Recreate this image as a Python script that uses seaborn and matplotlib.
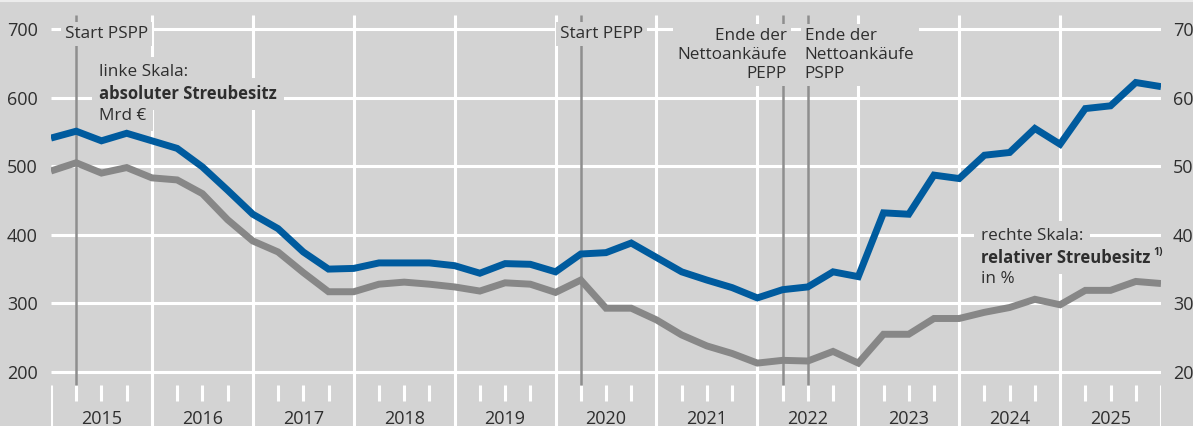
import numpy as np
import pandas as pd
import matplotlib
matplotlib.use('Agg')
import matplotlib.pyplot as plt
from matplotlib import font_manager
import seaborn as sns

# --------------------------
# Data (quarter ends, Q4 2014 .. Q4 2025)
# --------------------------
quarters = pd.period_range('2014Q4', '2025Q4', freq='Q').astype(str).tolist()
years = list(range(2015, 2026))

# absoluter Streubesitz, Mrd € (linke Skala)
abs_free_float = [541, 551, 537, 548, 537, 526, 499, 465, 430, 409, 375, 350,
                  351, 359, 359, 359, 355, 344, 358, 357, 346, 372, 374, 388,
                  367, 346, 334, 323, 308, 320, 324, 346, 339, 432, 430, 487,
                  482, 516, 520, 555, 532, 584, 588, 622, 616]

# relativer Streubesitz, % (rechte Skala)
rel_free_float = [49.3, 50.5, 49.0, 49.8, 48.3, 48.0, 46.0, 42.2, 39.1, 37.5, 34.5, 31.7,
                  31.7, 32.8, 33.1, 32.8, 32.4, 31.8, 33.0, 32.8, 31.6, 33.4, 29.3, 29.3,
                  27.6, 25.4, 23.8, 22.7, 21.3, 21.7, 21.6, 23.0, 21.3, 25.5, 25.5, 27.8,
                  27.8, 28.7, 29.4, 30.6, 29.8, 31.9, 31.9, 33.2, 32.9]

# events: (quarter, label)
events = [('2015Q1', 'Start PSPP'), ('2020Q1', 'Start PEPP'),
          ('2022Q1', 'Ende PEPP'), ('2022Q2', 'Ende PSPP')]

left_ticks = [200, 300, 400, 500, 600, 700]
right_ticks = [20, 30, 40, 50, 60, 70]

df = pd.DataFrame({'quarter': quarters, 'abs': abs_free_float, 'rel': rel_free_float})
df['pos'] = np.arange(len(df))
qpos = {q: i for i, q in enumerate(quarters)}

# --------------------------
# Styling
# --------------------------
BG = '#d3d3d3'
BLUE = '#005b9e'
GREY = '#878787'
EVT = '#8e8e8e'
TXT = '#2e2e2e'
FS = 12.3

# pick a humanist sans that actually has a bold face installed
def has_bold(name):
    for f in font_manager.fontManager.ttflist:
        if f.name == name and (f.weight in ('bold', 'semibold', 'demibold') or
                               (isinstance(f.weight, int) and f.weight >= 600)):
            return True
    return False

family = 'DejaVu Sans'
for cand in ['Noto Sans', 'Open Sans', 'Lato', 'Roboto', 'Liberation Sans']:
    if has_bold(cand):
        family = cand
        break

sns.set_style('white')
plt.rcParams['font.family'] = [family, 'DejaVu Sans']
plt.rcParams['font.size'] = FS

fig = plt.figure(figsize=(11.93, 4.26), dpi=100, facecolor=BG)
ax = fig.add_axes([51 / 1193, 0, 1110 / 1193, 1])
ax.set_facecolor(BG)

# pixel row -> left-scale value
def yv(py):
    return 700 - (py - 29) * 100 / 68.6

ymin, ymax = yv(426), yv(0)
ax.set_xlim(0, 44)
ax.set_ylim(ymin, ymax)

# grid
ax.hlines(left_ticks, 0, 44, color='white', lw=2.2, zorder=1)
year_edges = np.arange(4, 44, 4)
ax.vlines(year_edges, ymin, yv(15), color='white', lw=2.2, zorder=1)
ax.vlines([0, 44], ymin, yv(385), color='white', lw=2.2, zorder=1)
q_ticks = [i for i in range(1, 44) if i % 4 != 0]
ax.vlines(q_ticks, yv(401), yv(385), color='white', lw=2.2, zorder=1)

# year labels
for k, yr in enumerate(years):
    ax.text(4 * k + 2, yv(419), str(yr), ha='center', va='center', color=TXT,
            fontsize=13, clip_on=False)

# event lines
for q, _ in events:
    ax.vlines(qpos[q], yv(385), yv(15), color=EVT, lw=1.8, zorder=2)

box = dict(facecolor=BG, edgecolor='none', pad=3)
ax.text(0.55, yv(34), 'Start PSPP', ha='left', va='center', color=TXT, bbox=box, zorder=3)
ax.text(20.17, yv(34), 'Start PEPP', ha='left', va='center', color=TXT, bbox=box, zorder=3)
ax.text(29.17, yv(55), 'Ende der\nNettoankäufe\nPEPP', ha='right', va='center',
        multialignment='right', linespacing=1.22, color=TXT, bbox=box, zorder=3)
ax.text(29.88, yv(55), 'Ende der\nNettoankäufe\nPSPP', ha='left', va='center',
        multialignment='left', linespacing=1.22, color=TXT, bbox=box, zorder=3)

# scale notes
box2 = dict(facecolor=BG, edgecolor='none', pad=5)
ax.text(1.90, yv(72), 'linke Skala:', ha='left', va='center', color=TXT, bbox=box2, zorder=3)
ax.text(1.90, yv(94), 'absoluter Streubesitz', ha='left', va='center', color=TXT,
        fontsize=12, fontweight='bold', bbox=box2, zorder=3)
ax.text(1.90, yv(116), 'Mrd €', ha='left', va='center', color=TXT, bbox=box2, zorder=3)

ax.text(36.86, yv(236), 'rechte Skala:', ha='left', va='center', color=TXT, bbox=box2, zorder=3)
ax.text(36.86, yv(258), 'relativer Streubesitz', ha='left', va='center', color=TXT,
        fontsize=12, fontweight='bold', bbox=box2, zorder=3)
ax.text(43.70, yv(252), '1)', ha='left', va='center', fontsize=7.5, fontweight='bold',
        color=TXT, zorder=5)
ax.text(36.86, yv(279), 'in %', ha='left', va='center', color=TXT, bbox=box2, zorder=3)

# blue line, left scale
sns.lineplot(data=df, x='pos', y='abs', ax=ax, color=BLUE, lw=5, zorder=4,
             solid_joinstyle='miter', solid_capstyle='butt')

ax.set_yticks(left_ticks)
ax.set_yticklabels([str(v) for v in left_ticks])
ax.tick_params(axis='y', length=0, pad=9.5, labelsize=13, labelcolor=TXT)
ax.set_xticks([])
ax.set_xlabel('')
ax.set_ylabel('')
sns.despine(ax=ax, left=True, bottom=True)

# grey line, right scale
ax2 = ax.twinx()
ax2.set_ylim(ymin / 10, ymax / 10)
sns.lineplot(data=df, x='pos', y='rel', ax=ax2, color=GREY, lw=5, zorder=4,
             solid_joinstyle='miter', solid_capstyle='butt')
ax2.set_xlim(0, 44)
ax2.set_yticks(right_ticks)
ax2.set_yticklabels([str(v) for v in right_ticks])
ax2.tick_params(axis='y', length=0, pad=8.5, labelsize=13, labelcolor=TXT)
ax2.set_ylabel('')
ax2.set_xlabel('')
for s in ax2.spines.values():
    s.set_visible(False)

# thin light line at top edge
fig.add_artist(plt.Line2D([0, 1], [0.998, 0.998], transform=fig.transFigure,
                          color='#ececec', lw=1.5))

plt.savefig('out.png', dpi=100, facecolor=BG)
